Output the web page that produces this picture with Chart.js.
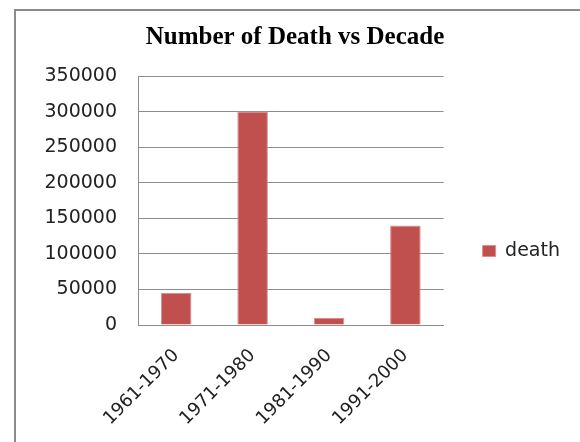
<!DOCTYPE html>
<html>
<head>
<meta charset="utf-8">
<script src="https://cdn.jsdelivr.net/npm/chart.js@4"></script>
<style>
  body { margin: 0; background: #fff; }
</style>
</head>
<body>
<canvas id="chart_death" width="580" height="442"></canvas>
<script>
const decades = ["1961-1970", "1971-1980", "1981-1990", "1991-2000"];
const deaths = [45000, 300000, 10000, 140000];
const yTicks = [0, 50000, 100000, 150000, 200000, 250000, 300000, 350000];

// outer frame of the picture, plus a nudge of the legend down to the middle of the plot
const frame = {
  id: "frame",
  afterLayout(chart) {
    const lg = chart.legend;
    if (lg) {
      lg.top += 30;
      lg.bottom += 30;
    }
  },
  beforeDraw(chart) {
    const ctx = chart.ctx;
    ctx.save();
    ctx.fillStyle = "#fff";
    ctx.fillRect(0, 0, chart.width, chart.height);
    ctx.strokeStyle = "#8a8a8a";
    ctx.lineWidth = 2;
    ctx.strokeRect(15, 10, chart.width + 10, chart.height + 10);
    ctx.restore();
  },
};

const canvas = document.getElementById("chart_death");

new Chart(canvas, {
  type: "bar",
  data: {
    labels: decades,
    datasets: [
      {
        label: "death",
        data: deaths,
        backgroundColor: "#c0504d",
        borderColor: "#d98e8c",
        borderWidth: 1,
        borderSkipped: "bottom",
        barPercentage: 0.4,
        categoryPercentage: 1,
      },
    ],
  },
  options: {
    responsive: false,
    animation: false,
    devicePixelRatio: 1,
    layout: {
      padding: { left: 20, right: 10, top: 0, bottom: 0 },
    },
    scales: {
      y: {
        min: 0,
        max: 350000,
        afterBuildTicks(scale) {
          scale.ticks = yTicks.map((v) => ({ value: v }));
        },
        afterFit(scale) {
          scale.width = 118;
        },
        ticks: {
          padding: 21,
          color: "#222",
          font: { family: "DejaVu Sans", size: 19 },
          callback: (v) => String(v),
        },
        grid: { color: "#8c8c8c", drawTicks: false },
        border: { color: "#8c8c8c" },
      },
      x: {
        afterFit(scale) {
          scale.height = 117;
        },
        ticks: {
          minRotation: 45,
          maxRotation: 45,
          padding: 20,
          color: "#222",
          font: { family: "DejaVu Sans", size: 18 },
        },
        grid: { display: false, drawTicks: false },
        border: { color: "#8c8c8c" },
      },
    },
    plugins: {
      title: {
        display: true,
        text: "Number of Death vs Decade",
        color: "#000",
        font: { family: "Liberation Serif", size: 25, weight: "bold" },
        padding: { top: 23, bottom: 23 },
      },
      legend: {
        position: "right",
        labels: {
          boxWidth: 13,
          boxHeight: 11,
          padding: 39,
          color: "#222",
          font: { family: "DejaVu Sans", size: 19 },
        },
      },
      tooltip: { enabled: false },
    },
  },
  plugins: [frame],
});
</script>
</body>
</html>
